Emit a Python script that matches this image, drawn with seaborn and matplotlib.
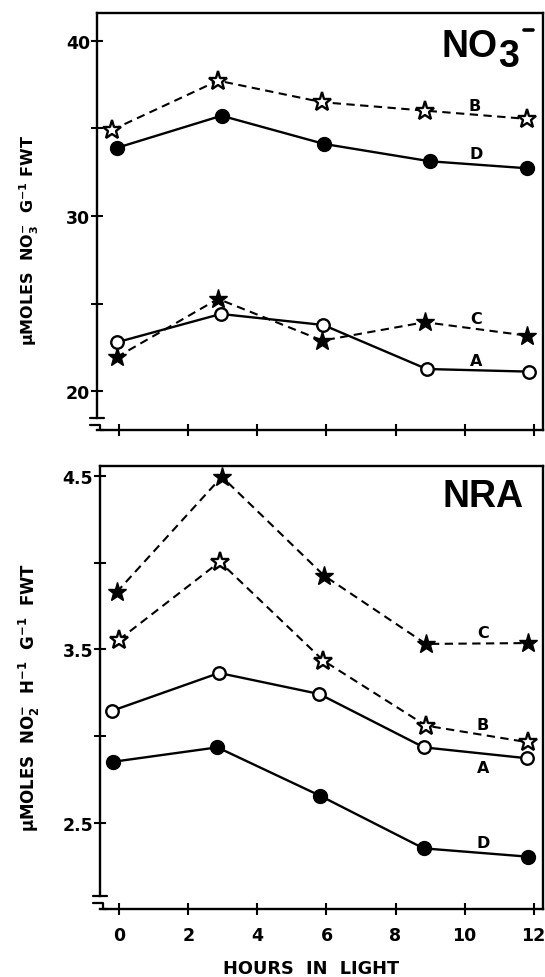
import matplotlib
matplotlib.use("Agg")
import matplotlib.pyplot as plt
import seaborn as sns
import pandas as pd
from matplotlib.lines import Line2D

sns.set_theme(style="white")
plt.rcParams['font.family'] = ['DejaVu Sans']
plt.rcParams['font.weight'] = 'bold'
plt.rcParams['mathtext.fontset'] = 'dejavusans'
plt.rcParams['mathtext.default'] = 'bf'

# ---------------- data ----------------
# NO3- panel
no3_A_x = [-0.06, 2.94, 5.91, 8.90, 11.87]
no3_A_y = [22.80, 24.41, 23.78, 21.27, 21.12]
no3_B_x = [-0.21, 2.86, 5.88, 8.85, 11.80]
no3_B_y = [34.91, 37.72, 36.49, 36.01, 35.54]
no3_C_x = [-0.08, 2.86, 5.88, 8.85, 11.82]
no3_C_y = [21.94, 25.27, 22.89, 23.94, 23.17]
no3_D_x = [-0.08, 2.96, 5.93, 9.00, 11.82]
no3_D_y = [33.88, 35.72, 34.11, 33.12, 32.72]

# NRA panel
nra_A_x = [-0.20, 2.89, 5.79, 8.82, 11.82]
nra_A_y = [3.148, 3.365, 3.244, 2.937, 2.874]
nra_B_x = [-0.01, 2.91, 5.91, 8.88, 11.84]
nra_B_y = [3.556, 4.005, 3.436, 3.062, 2.966]
nra_C_x = [-0.08, 2.97, 5.93, 8.88, 11.84]
nra_C_y = [3.829, 4.494, 3.925, 3.532, 3.537]
nra_D_x = [-0.18, 2.84, 5.81, 8.81, 11.84]
nra_D_y = [2.854, 2.937, 2.659, 2.356, 2.308]

x_ticks = [0, 2, 4, 6, 8, 10, 12]
x_ticklabels = ["0", "2", "4", "6", "8", "10", "12"]
no3_yticks = [20, 25, 30, 35, 40]
no3_yticklabels = ["20", "", "30", "", "40"]
nra_yticks = [2.5, 3.0, 3.5, 4.0, 4.5]
nra_yticklabels = ["2.5", "", "3.5", "", "4.5"]

series_labels = ["A", "B", "C", "D"]
no3_label_pos = [(10.34, 21.75), (10.29, 36.29), (10.34, 24.16), (10.34, 33.54)]
nra_label_pos = [(10.53, 2.822), (10.53, 3.066), (10.53, 3.60), (10.53, 2.39)]

# ---------------- figure ----------------
W, H = 545, 978
fig = plt.figure(figsize=(W / 100, H / 100), dpi=100)
fig.patch.set_facecolor("white")

def px_rect(l, t, r, b):
    return [l / W, 1 - b / H, (r - l) / W, (b - t) / H]

ax1 = fig.add_axes(px_rect(97, 14, 543, 431))
ax2 = fig.add_axes(px_rect(100, 467.3, 543, 910))

dash = (0, (4.0, 2.6))
styles = {
    "A": dict(marker="o", markersize=9, markerfacecolor="white", markeredgecolor="black",
              markeredgewidth=1.7, linestyle="-", linewidth=1.7),
    "B": dict(marker="*", markersize=14, markerfacecolor="white", markeredgecolor="black",
              markeredgewidth=1.7, linestyle=dash, linewidth=1.5),
    "C": dict(marker="*", markersize=14, markerfacecolor="black", markeredgecolor="black",
              markeredgewidth=1.0, linestyle=dash, linewidth=1.5),
    "D": dict(marker="o", markersize=10, markerfacecolor="black", markeredgecolor="black",
              markeredgewidth=1.0, linestyle="-", linewidth=1.7),
}

no3_series = {"A": (no3_A_x, no3_A_y), "B": (no3_B_x, no3_B_y),
              "C": (no3_C_x, no3_C_y), "D": (no3_D_x, no3_D_y)}
nra_series = {"A": (nra_A_x, nra_A_y), "B": (nra_B_x, nra_B_y),
              "C": (nra_C_x, nra_C_y), "D": (nra_D_x, nra_D_y)}

for ax, series in ((ax1, no3_series), (ax2, nra_series)):
    for name in ["B", "D", "C", "A"]:
        xs, ys = series[name]
        df = pd.DataFrame({"x": xs, "y": ys})
        sns.lineplot(data=df, x="x", y="y", ax=ax, color="black", sort=False,
                     legend=False, **styles[name])

def fmt_axis(ax, xmin, ylim, yticks, yticklabels, spine_bottom, show_xlabels):
    ax.set_xlim(xmin, 12.27)
    ax.set_ylim(*ylim)
    ax.set_facecolor("white")
    ax.grid(False)
    for s in ax.spines.values():
        s.set_color("black")
        s.set_linewidth(1.7)
        s.set_visible(True)
    ax.spines["left"].set_bounds(spine_bottom, ylim[1])
    ax.set_yticks(yticks)
    ax.set_yticklabels(yticklabels)
    ax.set_xticks(x_ticks)
    ax.set_xticklabels(x_ticklabels if show_xlabels else [""] * len(x_ticks))
    ax.tick_params(axis="both", direction="inout", length=8, width=1.5, color="black",
                   labelsize=12.5, pad=1, labelcolor="black",
                   left=True, bottom=True, right=False, top=False)
    ax.tick_params(axis="x", pad=8)
    for lab in ax.get_xticklabels() + ax.get_yticklabels():
        lab.set_fontweight("bold")
    ax.set_xlabel("")
    ax.set_ylabel("")

fmt_axis(ax1, -0.646, (17.79, 41.58), no3_yticks, no3_yticklabels, 18.48, False)
fmt_axis(ax2, -0.559, (2.007, 4.554), nra_yticks, nra_yticklabels, 2.083, True)

# series letters
for ax, poss in ((ax1, no3_label_pos), (ax2, nra_label_pos)):
    for name, (lx, ly) in zip(series_labels, poss):
        ax.text(lx, ly, name, fontsize=11.5, fontweight="bold", ha="center",
                va="center", color="black")

# axis-break marks
def fig_line(xs, ys, lw=1.6):
    fig.add_artist(Line2D([x / W for x in xs], [1 - y / H for y in ys],
                          transform=fig.transFigure, color="black", linewidth=lw))

fig_line([90, 104], [419, 419])
fig_line([90, 100, 100, 104], [426, 426, 431, 431])
fig_line([93, 107], [896.7, 896.7])
fig_line([93, 103, 103, 107], [903.5, 903.5, 910, 910])

# panel titles
title_font = ['Liberation Sans', 'DejaVu Sans']
fig.text(442 / W, 1 - 57 / H, "NO", fontsize=27, fontweight="bold", family=title_font,
         ha="left", va="baseline", color="black")
fig.text(498 / W, 1 - 67 / H, "3", fontsize=27, fontweight="bold", family=title_font,
         ha="left", va="baseline", color="black")
fig_line([524, 533], [31, 31], lw=2.6)
fig.text(483 / W, 1 - 497 / H, "NRA", fontsize=27, fontweight="bold", family=title_font,
         ha="center", va="center", color="black")

# axis labels
fig.text(29 / W, 1 - 240 / H, r"µMOLES  NO$_3^{-}$  G$^{-1}$ FWT", rotation=90,
         fontsize=11.5, fontweight="bold", ha="center", va="center", color="black")
fig.text(29 / W, 1 - 697 / H, r"µMOLES  NO$_2^{-}$  H$^{-1}$  G$^{-1}$  FWT", rotation=90,
         fontsize=12, fontweight="bold", ha="center", va="center", color="black")
fig.text(311 / W, 1 - 969 / H, "HOURS  IN  LIGHT", fontsize=12.8, fontweight="bold",
         ha="center", va="center", color="black")

fig.savefig("out.png", dpi=100, facecolor="white")
